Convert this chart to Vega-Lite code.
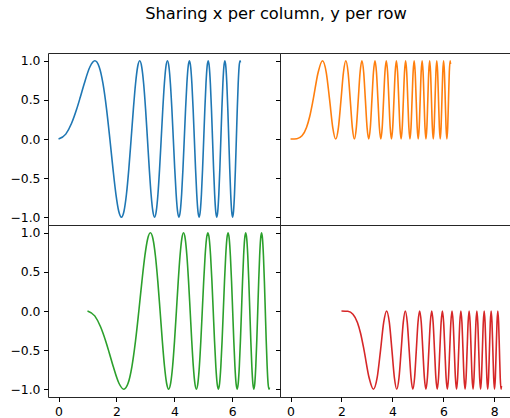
{
"$schema": "https://vega.github.io/schema/vega-lite/v6.json",
"padding": {"left": 7, "top": 6, "right": 0, "bottom": 0},
"title": {"text": "Sharing x per column, y per row", "font": "DejaVu Sans", "fontSize": 16.3, "fontWeight": "normal", "color": "#000", "anchor": "middle", "offset": 31, "dx": 16, "dy": 1},
"data": {"values": [
{"x":0,"y":0,"y2":0,"x3":1,"y3":0,"x4":2,"y4":0},
{"x":0.25,"y":0.0625,"y2":0.0039,"x3":1.25,"y3":-0.0625,"x4":2.25,"y4":-0.0039},
{"x":0.45,"y":0.2011,"y2":0.0404,"x3":1.45,"y3":-0.2011,"x4":2.45,"y4":-0.0404},
{"x":0.6267,"y":0.3827,"y2":0.1464,"x3":1.6267,"y3":-0.3827,"x4":2.6267,"y4":-0.1464},
{"x":0.75,"y":0.5333,"y2":0.2844,"x3":1.75,"y3":-0.5333,"x4":2.75,"y4":-0.2844},
{"x":0.8862,"y":0.7071,"y2":0.5,"x3":1.8862,"y3":-0.7071,"x4":2.8862,"y4":-0.5},
{"x":1.0854,"y":0.9239,"y2":0.8536,"x3":2.0854,"y3":-0.9239,"x4":3.0854,"y4":-0.8536},
{"x":1.2533,"y":1,"y2":1,"x3":2.2533,"y3":-1,"x4":3.2533,"y4":-1},
{"x":1.4012,"y":0.9239,"y2":0.8536,"x3":2.4012,"y3":-0.9239,"x4":3.4012,"y4":-0.8536},
{"x":1.535,"y":0.7071,"y2":0.5,"x3":2.535,"y3":-0.7071,"x4":3.535,"y4":-0.5},
{"x":1.658,"y":0.3827,"y2":0.1464,"x3":2.658,"y3":-0.3827,"x4":3.658,"y4":-0.1464},
{"x":1.7725,"y":0,"y2":0,"x3":2.7725,"y3":0,"x4":3.7725,"y4":0},
{"x":1.88,"y":-0.3827,"y2":0.1464,"x3":2.88,"y3":0.3827,"x4":3.88,"y4":-0.1464},
{"x":1.9817,"y":-0.7071,"y2":0.5,"x3":2.9817,"y3":0.7071,"x4":3.9817,"y4":-0.5},
{"x":2.0784,"y":-0.9239,"y2":0.8536,"x3":3.0784,"y3":0.9239,"x4":4.0784,"y4":-0.8536},
{"x":2.1708,"y":-1,"y2":1,"x3":3.1708,"y3":1,"x4":4.1708,"y4":-1},
{"x":2.2594,"y":-0.9239,"y2":0.8536,"x3":3.2594,"y3":0.9239,"x4":4.2594,"y4":-0.8536},
{"x":2.3447,"y":-0.7071,"y2":0.5,"x3":3.3447,"y3":0.7071,"x4":4.3447,"y4":-0.5},
{"x":2.4271,"y":-0.3827,"y2":0.1464,"x3":3.4271,"y3":0.3827,"x4":4.4271,"y4":-0.1464},
{"x":2.5066,"y":0,"y2":0,"x3":3.5066,"y3":0,"x4":4.5066,"y4":0},
{"x":2.5838,"y":0.3827,"y2":0.1464,"x3":3.5838,"y3":-0.3827,"x4":4.5838,"y4":-0.1464},
{"x":2.6587,"y":0.7071,"y2":0.5,"x3":3.6587,"y3":-0.7071,"x4":4.6587,"y4":-0.5},
{"x":2.7315,"y":0.9239,"y2":0.8536,"x3":3.7315,"y3":-0.9239,"x4":4.7315,"y4":-0.8536},
{"x":2.8025,"y":1,"y2":1,"x3":3.8025,"y3":-1,"x4":4.8025,"y4":-1},
{"x":2.8717,"y":0.9239,"y2":0.8536,"x3":3.8717,"y3":-0.9239,"x4":4.8717,"y4":-0.8536},
{"x":2.9393,"y":0.7071,"y2":0.5,"x3":3.9393,"y3":-0.7071,"x4":4.9393,"y4":-0.5},
{"x":3.0053,"y":0.3827,"y2":0.1464,"x3":4.0053,"y3":-0.3827,"x4":5.0053,"y4":-0.1464},
{"x":3.07,"y":0,"y2":0,"x3":4.07,"y3":0,"x4":5.07,"y4":0},
{"x":3.1333,"y":-0.3827,"y2":0.1464,"x3":4.1333,"y3":0.3827,"x4":5.1333,"y4":-0.1464},
{"x":3.1953,"y":-0.7071,"y2":0.5,"x3":4.1953,"y3":0.7071,"x4":5.1953,"y4":-0.5},
{"x":3.2562,"y":-0.9239,"y2":0.8536,"x3":4.2562,"y3":0.9239,"x4":5.2562,"y4":-0.8536},
{"x":3.316,"y":-1,"y2":1,"x3":4.316,"y3":1,"x4":5.316,"y4":-1},
{"x":3.3746,"y":-0.9239,"y2":0.8536,"x3":4.3746,"y3":0.9239,"x4":5.3746,"y4":-0.8536},
{"x":3.4323,"y":-0.7071,"y2":0.5,"x3":4.4323,"y3":0.7071,"x4":5.4323,"y4":-0.5},
{"x":3.4891,"y":-0.3827,"y2":0.1464,"x3":4.4891,"y3":0.3827,"x4":5.4891,"y4":-0.1464},
{"x":3.5449,"y":0,"y2":0,"x3":4.5449,"y3":0,"x4":5.5449,"y4":0},
{"x":3.5999,"y":0.3827,"y2":0.1464,"x3":4.5999,"y3":-0.3827,"x4":5.5999,"y4":-0.1464},
{"x":3.654,"y":0.7071,"y2":0.5,"x3":4.654,"y3":-0.7071,"x4":5.654,"y4":-0.5},
{"x":3.7073,"y":0.9239,"y2":0.8536,"x3":4.7073,"y3":-0.9239,"x4":5.7073,"y4":-0.8536},
{"x":3.7599,"y":1,"y2":1,"x3":4.7599,"y3":-1,"x4":5.7599,"y4":-1},
{"x":3.8118,"y":0.9239,"y2":0.8536,"x3":4.8118,"y3":-0.9239,"x4":5.8118,"y4":-0.8536},
{"x":3.863,"y":0.7071,"y2":0.5,"x3":4.863,"y3":-0.7071,"x4":5.863,"y4":-0.5},
{"x":3.9135,"y":0.3827,"y2":0.1464,"x3":4.9135,"y3":-0.3827,"x4":5.9135,"y4":-0.1464},
{"x":3.9633,"y":0,"y2":0,"x3":4.9633,"y3":0,"x4":5.9633,"y4":0},
{"x":4.0126,"y":-0.3827,"y2":0.1464,"x3":5.0126,"y3":0.3827,"x4":6.0126,"y4":-0.1464},
{"x":4.0612,"y":-0.7071,"y2":0.5,"x3":5.0612,"y3":0.7071,"x4":6.0612,"y4":-0.5},
{"x":4.1093,"y":-0.9239,"y2":0.8536,"x3":5.1093,"y3":0.9239,"x4":6.1093,"y4":-0.8536},
{"x":4.1568,"y":-1,"y2":1,"x3":5.1568,"y3":1,"x4":6.1568,"y4":-1},
{"x":4.2037,"y":-0.9239,"y2":0.8536,"x3":5.2037,"y3":0.9239,"x4":6.2037,"y4":-0.8536},
{"x":4.2502,"y":-0.7071,"y2":0.5,"x3":5.2502,"y3":0.7071,"x4":6.2502,"y4":-0.5},
{"x":4.2961,"y":-0.3827,"y2":0.1464,"x3":5.2961,"y3":0.3827,"x4":6.2961,"y4":-0.1464},
{"x":4.3416,"y":0,"y2":0,"x3":5.3416,"y3":0,"x4":6.3416,"y4":0},
{"x":4.3866,"y":0.3827,"y2":0.1464,"x3":5.3866,"y3":-0.3827,"x4":6.3866,"y4":-0.1464},
{"x":4.4311,"y":0.7071,"y2":0.5,"x3":5.4311,"y3":-0.7071,"x4":6.4311,"y4":-0.5},
{"x":4.4752,"y":0.9239,"y2":0.8536,"x3":5.4752,"y3":-0.9239,"x4":6.4752,"y4":-0.8536},
{"x":4.5189,"y":1,"y2":1,"x3":5.5189,"y3":-1,"x4":6.5189,"y4":-1},
{"x":4.5621,"y":0.9239,"y2":0.8536,"x3":5.5621,"y3":-0.9239,"x4":6.5621,"y4":-0.8536},
{"x":4.605,"y":0.7071,"y2":0.5,"x3":5.605,"y3":-0.7071,"x4":6.605,"y4":-0.5},
{"x":4.6474,"y":0.3827,"y2":0.1464,"x3":5.6474,"y3":-0.3827,"x4":6.6474,"y4":-0.1464},
{"x":4.6895,"y":0,"y2":0,"x3":5.6895,"y3":0,"x4":6.6895,"y4":0},
{"x":4.7312,"y":-0.3827,"y2":0.1464,"x3":5.7312,"y3":0.3827,"x4":6.7312,"y4":-0.1464},
{"x":4.7725,"y":-0.7071,"y2":0.5,"x3":5.7725,"y3":0.7071,"x4":6.7725,"y4":-0.5},
{"x":4.8134,"y":-0.9239,"y2":0.8536,"x3":5.8134,"y3":0.9239,"x4":6.8134,"y4":-0.8536},
{"x":4.8541,"y":-1,"y2":1,"x3":5.8541,"y3":1,"x4":6.8541,"y4":-1},
{"x":4.8944,"y":-0.9239,"y2":0.8536,"x3":5.8944,"y3":0.9239,"x4":6.8944,"y4":-0.8536},
{"x":4.9343,"y":-0.7071,"y2":0.5,"x3":5.9343,"y3":0.7071,"x4":6.9343,"y4":-0.5},
{"x":4.9739,"y":-0.3827,"y2":0.1464,"x3":5.9739,"y3":0.3827,"x4":6.9739,"y4":-0.1464},
{"x":5.0133,"y":0,"y2":0,"x3":6.0133,"y3":0,"x4":7.0133,"y4":0},
{"x":5.0523,"y":0.3827,"y2":0.1464,"x3":6.0523,"y3":-0.3827,"x4":7.0523,"y4":-0.1464},
{"x":5.091,"y":0.7071,"y2":0.5,"x3":6.091,"y3":-0.7071,"x4":7.091,"y4":-0.5},
{"x":5.1294,"y":0.9239,"y2":0.8536,"x3":6.1294,"y3":-0.9239,"x4":7.1294,"y4":-0.8536},
{"x":5.1676,"y":1,"y2":1,"x3":6.1676,"y3":-1,"x4":7.1676,"y4":-1},
{"x":5.2054,"y":0.9239,"y2":0.8536,"x3":6.2054,"y3":-0.9239,"x4":7.2054,"y4":-0.8536},
{"x":5.243,"y":0.7071,"y2":0.5,"x3":6.243,"y3":-0.7071,"x4":7.243,"y4":-0.5},
{"x":5.2803,"y":0.3827,"y2":0.1464,"x3":6.2803,"y3":-0.3827,"x4":7.2803,"y4":-0.1464},
{"x":5.3174,"y":0,"y2":0,"x3":6.3174,"y3":0,"x4":7.3174,"y4":0},
{"x":5.3542,"y":-0.3827,"y2":0.1464,"x3":6.3542,"y3":0.3827,"x4":7.3542,"y4":-0.1464},
{"x":5.3907,"y":-0.7071,"y2":0.5,"x3":6.3907,"y3":0.7071,"x4":7.3907,"y4":-0.5},
{"x":5.427,"y":-0.9239,"y2":0.8536,"x3":6.427,"y3":0.9239,"x4":7.427,"y4":-0.8536},
{"x":5.4631,"y":-1,"y2":1,"x3":6.4631,"y3":1,"x4":7.4631,"y4":-1},
{"x":5.4989,"y":-0.9239,"y2":0.8536,"x3":6.4989,"y3":0.9239,"x4":7.4989,"y4":-0.8536},
{"x":5.5345,"y":-0.7071,"y2":0.5,"x3":6.5345,"y3":0.7071,"x4":7.5345,"y4":-0.5},
{"x":5.5699,"y":-0.3827,"y2":0.1464,"x3":6.5699,"y3":0.3827,"x4":7.5699,"y4":-0.1464},
{"x":5.605,"y":0,"y2":0,"x3":6.605,"y3":0,"x4":7.605,"y4":0},
{"x":5.6399,"y":0.3827,"y2":0.1464,"x3":6.6399,"y3":-0.3827,"x4":7.6399,"y4":-0.1464},
{"x":5.6746,"y":0.7071,"y2":0.5,"x3":6.6746,"y3":-0.7071,"x4":7.6746,"y4":-0.5},
{"x":5.7091,"y":0.9239,"y2":0.8536,"x3":6.7091,"y3":-0.9239,"x4":7.7091,"y4":-0.8536},
{"x":5.7434,"y":1,"y2":1,"x3":6.7434,"y3":-1,"x4":7.7434,"y4":-1},
{"x":5.7775,"y":0.9239,"y2":0.8536,"x3":6.7775,"y3":-0.9239,"x4":7.7775,"y4":-0.8536},
{"x":5.8114,"y":0.7071,"y2":0.5,"x3":6.8114,"y3":-0.7071,"x4":7.8114,"y4":-0.5},
{"x":5.8451,"y":0.3827,"y2":0.1464,"x3":6.8451,"y3":-0.3827,"x4":7.8451,"y4":-0.1464},
{"x":5.8786,"y":0,"y2":0,"x3":6.8786,"y3":0,"x4":7.8786,"y4":0},
{"x":5.9119,"y":-0.3827,"y2":0.1464,"x3":6.9119,"y3":0.3827,"x4":7.9119,"y4":-0.1464},
{"x":5.945,"y":-0.7071,"y2":0.5,"x3":6.945,"y3":0.7071,"x4":7.945,"y4":-0.5},
{"x":5.9779,"y":-0.9239,"y2":0.8536,"x3":6.9779,"y3":0.9239,"x4":7.9779,"y4":-0.8536},
{"x":6.0107,"y":-1,"y2":1,"x3":7.0107,"y3":1,"x4":8.0107,"y4":-1},
{"x":6.0433,"y":-0.9239,"y2":0.8536,"x3":7.0433,"y3":0.9239,"x4":8.0433,"y4":-0.8536},
{"x":6.0757,"y":-0.7071,"y2":0.5,"x3":7.0757,"y3":0.7071,"x4":8.0757,"y4":-0.5},
{"x":6.1079,"y":-0.3827,"y2":0.1464,"x3":7.1079,"y3":0.3827,"x4":8.1079,"y4":-0.1464},
{"x":6.14,"y":0,"y2":0,"x3":7.14,"y3":0,"x4":8.14,"y4":0},
{"x":6.1719,"y":0.3827,"y2":0.1464,"x3":7.1719,"y3":-0.3827,"x4":8.1719,"y4":-0.1464},
{"x":6.2036,"y":0.7071,"y2":0.5,"x3":7.2036,"y3":-0.7071,"x4":8.2036,"y4":-0.5},
{"x":6.2352,"y":0.9239,"y2":0.8536,"x3":7.2352,"y3":-0.9239,"x4":8.2352,"y4":-0.8536},
{"x":6.2666,"y":1,"y2":1,"x3":7.2666,"y3":-1,"x4":8.2666,"y4":-1},
{"x":6.2832,"y":0.9783,"y2":0.9571,"x3":7.2832,"y3":-0.9783,"x4":8.2832,"y4":-0.9571}
]},
"columns": 2,
"spacing": 0,
"bounds": "flush",
"concat": [
{"width": 232, "height": 172,
 "mark": {"type": "line", "color": "#1f77b4", "strokeWidth": 1.6, "interpolate": "monotone"},
 "encoding": {
  "x": {"field": "x", "type": "quantitative", "scale": {"domain": [-0.3642, 7.6474], "nice": false, "zero": false}, "axis": null},
  "y": {"field": "y", "type": "quantitative", "scale": {"domain": [-1.1, 1.1], "nice": false, "zero": false}, "axis": {"values": [-1, -0.5, 0, 0.5, 1], "format": ".1f", "minExtent": 40, "maxExtent": 40}}
 }},
{"width": 232, "height": 172,
 "mark": {"type": "line", "color": "#ff7f0e", "strokeWidth": 1.6, "interpolate": "monotone"},
 "encoding": {
  "x": {"field": "x", "type": "quantitative", "scale": {"domain": [-0.4142, 8.6974], "nice": false, "zero": false}, "axis": null},
  "y": {"field": "y2", "type": "quantitative", "scale": {"domain": [-1.1, 1.1], "nice": false, "zero": false}, "axis": {"values": [-1, -0.5, 0, 0.5, 1], "labels": false, "minExtent": 0, "maxExtent": 0}}
 }},
{"width": 232, "height": 172,
 "mark": {"type": "line", "color": "#2ca02c", "strokeWidth": 1.6, "interpolate": "monotone"},
 "encoding": {
  "x": {"field": "x3", "type": "quantitative", "scale": {"domain": [-0.3642, 7.6474], "nice": false, "zero": false}, "axis": {"values": [0, 2, 4, 6], "format": "d", "labelPadding": 4}},
  "y": {"field": "y3", "type": "quantitative", "scale": {"domain": [-1.1, 1.1], "nice": false, "zero": false}, "axis": {"values": [-1, -0.5, 0, 0.5, 1], "format": ".1f", "minExtent": 40, "maxExtent": 40}}
 }},
{"width": 232, "height": 172,
 "mark": {"type": "line", "color": "#d62728", "strokeWidth": 1.6, "interpolate": "monotone"},
 "encoding": {
  "x": {"field": "x4", "type": "quantitative", "scale": {"domain": [-0.4142, 8.6974], "nice": false, "zero": false}, "axis": {"values": [0, 2, 4, 6, 8], "format": "d", "labelPadding": 4}},
  "y": {"field": "y4", "type": "quantitative", "scale": {"domain": [-1.1, 1.1], "nice": false, "zero": false}, "axis": {"values": [-1, -0.5, 0, 0.5, 1], "labels": false, "minExtent": 0, "maxExtent": 0}}
 }}
],
"config": {
 "font": "DejaVu Sans",
 "view": {"stroke": "#262626", "strokeWidth": 1},
 "axis": {"domain": false, "grid": false, "title": null, "labelFont": "DejaVu Sans", "labelFontSize": 12.4, "labelColor": "#000", "tickColor": "#000", "tickSize": 4.5, "tickWidth": 1, "labelPadding": 3.5, "labelFlush": false}
}
}
